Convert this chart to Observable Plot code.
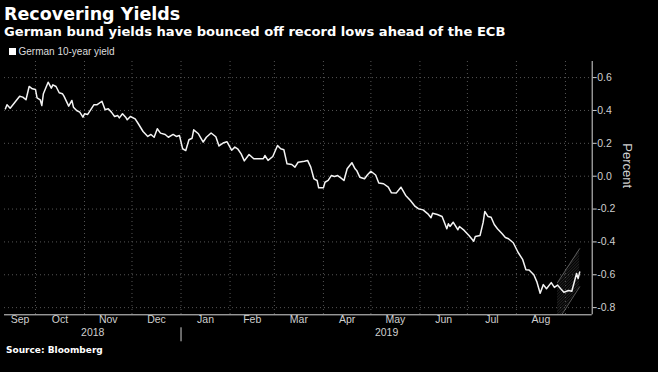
<!DOCTYPE html>
<html>
<head>
<meta charset="utf-8">
<script src="https://cdn.jsdelivr.net/npm/d3@7"></script>
<script src="https://cdn.jsdelivr.net/npm/@observablehq/plot@0.6"></script>
<style>
  html, body { margin: 0; padding: 0; background: #000; }
  #wrap { position: relative; width: 658px; height: 372px; background: #000; overflow: hidden; }
  .t { position: absolute; white-space: nowrap; line-height: 1; }
  #title { left: 4px; top: 3.5px; font: bold 17.5px "DejaVu Sans"; color: #fff; }
  #subtitle { left: 4px; top: 23.9px; font: bold 13.1px "DejaVu Sans"; color: #fff; }
  #legend { left: 9px; top: 45.5px; font: 10px "Liberation Sans"; color: #ddd; }
  #legend .sw { display: inline-block; width: 7px; height: 7px; background: #fff; margin-right: 2.5px; vertical-align: 0px; }
  #source { left: 6px; top: 344.9px; font: bold 9px "DejaVu Sans"; color: #fff; }
  #chart { position: absolute; left: 0; top: 56px; }
</style>
</head>
<body>
<svg width="0" height="0" style="position:absolute">
  <defs>
    <pattern id="hatch" patternUnits="userSpaceOnUse" width="2" height="2" patternTransform="rotate(45)">
      <line x1="0" y1="0" x2="0" y2="2" stroke="#4a4a4a" stroke-width="0.9"></line>
    </pattern>
  </defs>
</svg>
<div id="wrap">
  <div class="t" id="title"></div>
  <div class="t" id="subtitle"></div>
  <div class="t" id="legend"><span class="sw"></span><span id="legtext"></span></div>
  <div id="chart"></div>
  <div class="t" id="source"></div>
</div>
<script>
// ---- Text ----
const titleText = "Recovering Yields";
const subtitleText = "German bund yields have bounced off record lows ahead of the ECB";
const seriesName = "German 10-year yield";
const yLabel = "Percent";
const sourceText = "Source: Bloomberg";

// ---- Series: German 10-year yield (%) ----
const dates = [
  "2018-09-12","2018-09-13","2018-09-15","2018-09-18","2018-09-21","2018-09-23","2018-09-25","2018-09-27","2018-09-29",
  "2018-10-01","2018-10-02","2018-10-04","2018-10-05","2018-10-06","2018-10-09","2018-10-11","2018-10-12","2018-10-14",
  "2018-10-16","2018-10-18","2018-10-19","2018-10-22","2018-10-24","2018-10-25","2018-10-27","2018-10-29","2018-10-31",
  "2018-11-01","2018-11-03","2018-11-07","2018-11-09","2018-11-12","2018-11-14","2018-11-16","2018-11-18","2018-11-20",
  "2018-11-22","2018-11-23","2018-11-25","2018-11-27","2018-11-28","2018-11-30",
  "2018-12-03","2018-12-05","2018-12-08","2018-12-11","2018-12-13","2018-12-15","2018-12-17","2018-12-19","2018-12-22",
  "2018-12-24","2018-12-27","2018-12-29","2018-12-31",
  "2019-01-02","2019-01-04","2019-01-06","2019-01-08","2019-01-09","2019-01-12","2019-01-15","2019-01-17","2019-01-20",
  "2019-01-23","2019-01-25","2019-01-28","2019-01-30",
  "2019-02-02","2019-02-04","2019-02-06","2019-02-08","2019-02-10","2019-02-13","2019-02-16","2019-02-19","2019-02-22",
  "2019-02-23","2019-02-25","2019-02-28",
  "2019-03-03","2019-03-05","2019-03-07","2019-03-09","2019-03-12","2019-03-14","2019-03-16","2019-03-20","2019-03-22",
  "2019-03-24","2019-03-26","2019-03-28","2019-03-29",
  "2019-04-01","2019-04-02","2019-04-04","2019-04-06","2019-04-08","2019-04-10","2019-04-12","2019-04-14","2019-04-16",
  "2019-04-19","2019-04-21","2019-04-22","2019-04-24","2019-04-27","2019-04-29",
  "2019-05-01","2019-05-04","2019-05-06","2019-05-09","2019-05-12","2019-05-14","2019-05-17","2019-05-20","2019-05-23",
  "2019-05-26","2019-05-29","2019-05-31",
  "2019-06-03","2019-06-06","2019-06-08","2019-06-09","2019-06-12","2019-06-15","2019-06-16","2019-06-18","2019-06-19",
  "2019-06-20","2019-06-22","2019-06-25","2019-06-26","2019-06-29",
  "2019-07-02","2019-07-05","2019-07-06","2019-07-09","2019-07-11","2019-07-12","2019-07-14","2019-07-16","2019-07-18",
  "2019-07-20","2019-07-23","2019-07-25","2019-07-27","2019-07-30",
  "2019-08-02","2019-08-05","2019-08-07","2019-08-09","2019-08-12","2019-08-14","2019-08-16","2019-08-18","2019-08-20",
  "2019-08-23","2019-08-25","2019-08-27","2019-08-29","2019-08-31",
  "2019-09-03","2019-09-05","2019-09-07","2019-09-08","2019-09-09","2019-09-10"
];
const yields = [
  0.410,0.435,0.414,0.450,0.487,0.481,0.465,0.546,0.532,
  0.528,0.477,0.465,0.430,0.502,0.572,0.536,0.556,0.546,
  0.508,0.502,0.487,0.426,0.461,0.420,0.400,0.390,0.359,
  0.380,0.376,0.435,0.435,0.456,0.404,0.410,0.390,0.363,
  0.369,0.355,0.380,0.359,0.343,0.363,
  0.349,0.319,0.272,0.242,0.254,0.237,0.289,0.262,0.254,
  0.237,0.254,0.242,0.248,
  0.167,0.156,0.222,0.231,0.282,0.258,0.208,0.237,0.263,
  0.240,0.184,0.204,0.210,
  0.158,0.177,0.164,0.136,0.093,0.132,0.106,0.106,0.106,
  0.126,0.096,0.120,
  0.187,0.167,0.161,0.075,0.071,0.055,0.085,0.091,0.096,
  0.055,-0.016,-0.026,-0.071,
  -0.071,-0.037,-0.026,0.004,-0.002,0.004,-0.010,-0.026,0.045,
  0.082,0.045,0.035,-0.006,-0.016,0.010,
  0.030,0.007,-0.041,-0.046,-0.067,-0.101,-0.103,-0.067,-0.117,
  -0.148,-0.184,-0.198,
  -0.205,-0.229,-0.253,-0.225,-0.233,-0.245,-0.270,-0.320,-0.290,
  -0.306,-0.280,-0.326,-0.306,-0.330,
  -0.361,-0.396,-0.367,-0.361,-0.280,-0.215,-0.245,-0.250,-0.294,
  -0.320,-0.351,-0.373,-0.381,-0.405,
  -0.463,-0.508,-0.569,-0.571,-0.600,-0.645,-0.712,-0.660,-0.685,
  -0.648,-0.677,-0.663,-0.685,-0.706,
  -0.696,-0.700,-0.629,-0.592,-0.623,-0.583
];

// ---- Rising channel annotation (hatched) ----
const channelDates = ["2019-08-27", "2019-09-10"];
const channelUpper = [-0.647, -0.441];
const channelLower = [-0.883, -0.673];

// ---- Axis labels ----
const monthNames = ["Sep","Oct","Nov","Dec","Jan","Feb","Mar","Apr","May","Jun","Jul","Aug"];
const monthStarts = ["2018-09-01","2018-10-01","2018-11-01","2018-12-01","2019-01-01","2019-02-01",
                     "2019-03-01","2019-04-01","2019-05-01","2019-06-01","2019-07-01","2019-08-01"];
const yearNames = ["2018", "2019"];
const yearStarts = ["2018-01-01", "2019-01-01"];
const yTicks = [0.6, 0.4, 0.2, 0.0, -0.2, -0.4, -0.6, -0.8];

// ---- Scale domains ----
const xDomain = [new Date("2018-09-11T10:00Z"), new Date("2019-09-17T21:30Z")];
const yDomain = [-0.8436, 0.698];

// ---- Build tables ----
const series = dates.map((d, i) => ({date: new Date(d), value: yields[i]}));
const channel = channelDates.map((d, i) => ({date: new Date(d), hi: channelUpper[i], lo: channelLower[i]}));
const clampMid = (a, b) => new Date((Math.max(+a, +xDomain[0]) + Math.min(+b, +xDomain[1])) / 2);
const monthLabels = monthNames.map((m, i) => {
  const s = new Date(monthStarts[i]);
  return {label: m, mid: clampMid(s, d3.utcMonth.offset(s, 1))};
});
const yearLabels = yearNames.map((y, i) => {
  const s = new Date(yearStarts[i]);
  return {label: y, mid: clampMid(s, d3.utcYear.offset(s, 1))};
});
const gridMonths = d3.utcMonths(xDomain[0], xDomain[1]);
const yearBoundary = [new Date(yearStarts[1])];

document.getElementById("title").textContent = titleText;
document.getElementById("subtitle").textContent = subtitleText;
document.getElementById("legtext").textContent = seriesName;
document.getElementById("source").textContent = sourceText;

const grid = {stroke: "#555", strokeDasharray: "1,3", strokeWidth: 1};
const tickColor = "#cfcfcf";

const chart = Plot.plot({
  width: 658,
  height: 316,
  marginTop: 5,
  marginBottom: 57.7,
  marginLeft: 4,
  marginRight: 66.3,
  style: {background: "transparent", color: tickColor, fontFamily: "Liberation Sans", fontSize: "10.5px"},
  x: {type: "utc", domain: xDomain, axis: null},
  y: {domain: yDomain, axis: null},
  marks: [
    Plot.ruleY(yTicks, {...grid}),
    Plot.ruleX(gridMonths, {...grid}),
    Plot.areaY(channel, {x: "date", y1: "lo", y2: "hi", fill: "url(#hatch)", clip: true}),
    Plot.line(channel, {x: "date", y: "hi", stroke: "#6e6e6e", strokeWidth: 0.8, clip: true}),
    Plot.line(channel, {x: "date", y: "lo", stroke: "#6e6e6e", strokeWidth: 0.8, clip: true}),
    Plot.line(series, {x: "date", y: "value", stroke: "#f4f4f4", strokeWidth: 1.5, strokeLinejoin: "round"}),
    Plot.ruleY([yDomain[0]], {stroke: "#d8d8d8", strokeWidth: 1}),
    Plot.ruleX([xDomain[1]], {stroke: "#d8d8d8", strokeWidth: 1}),
    Plot.axisY(yTicks, {anchor: "right", tickSize: 4, tickPadding: 1, tickFormat: d => d.toFixed(1),
                        label: null, stroke: tickColor, fill: tickColor, fontSize: 10.5}),
    Plot.text([yLabel], {frameAnchor: "right", dx: 35, rotate: 90, fill: tickColor, fontSize: 13}),
    Plot.text(monthLabels, {x: "mid", text: "label", frameAnchor: "bottom", dy: 8, fill: tickColor}),
    Plot.text(yearLabels, {x: "mid", text: "label", frameAnchor: "bottom", dy: 21, fill: tickColor}),
    Plot.ruleX(yearBoundary, {y1: yDomain[0], y2: yDomain[0], insetTop: 13, insetBottom: -27, stroke: tickColor})
  ]
});
document.getElementById("chart").appendChild(chart);
</script>
</body>
</html>
